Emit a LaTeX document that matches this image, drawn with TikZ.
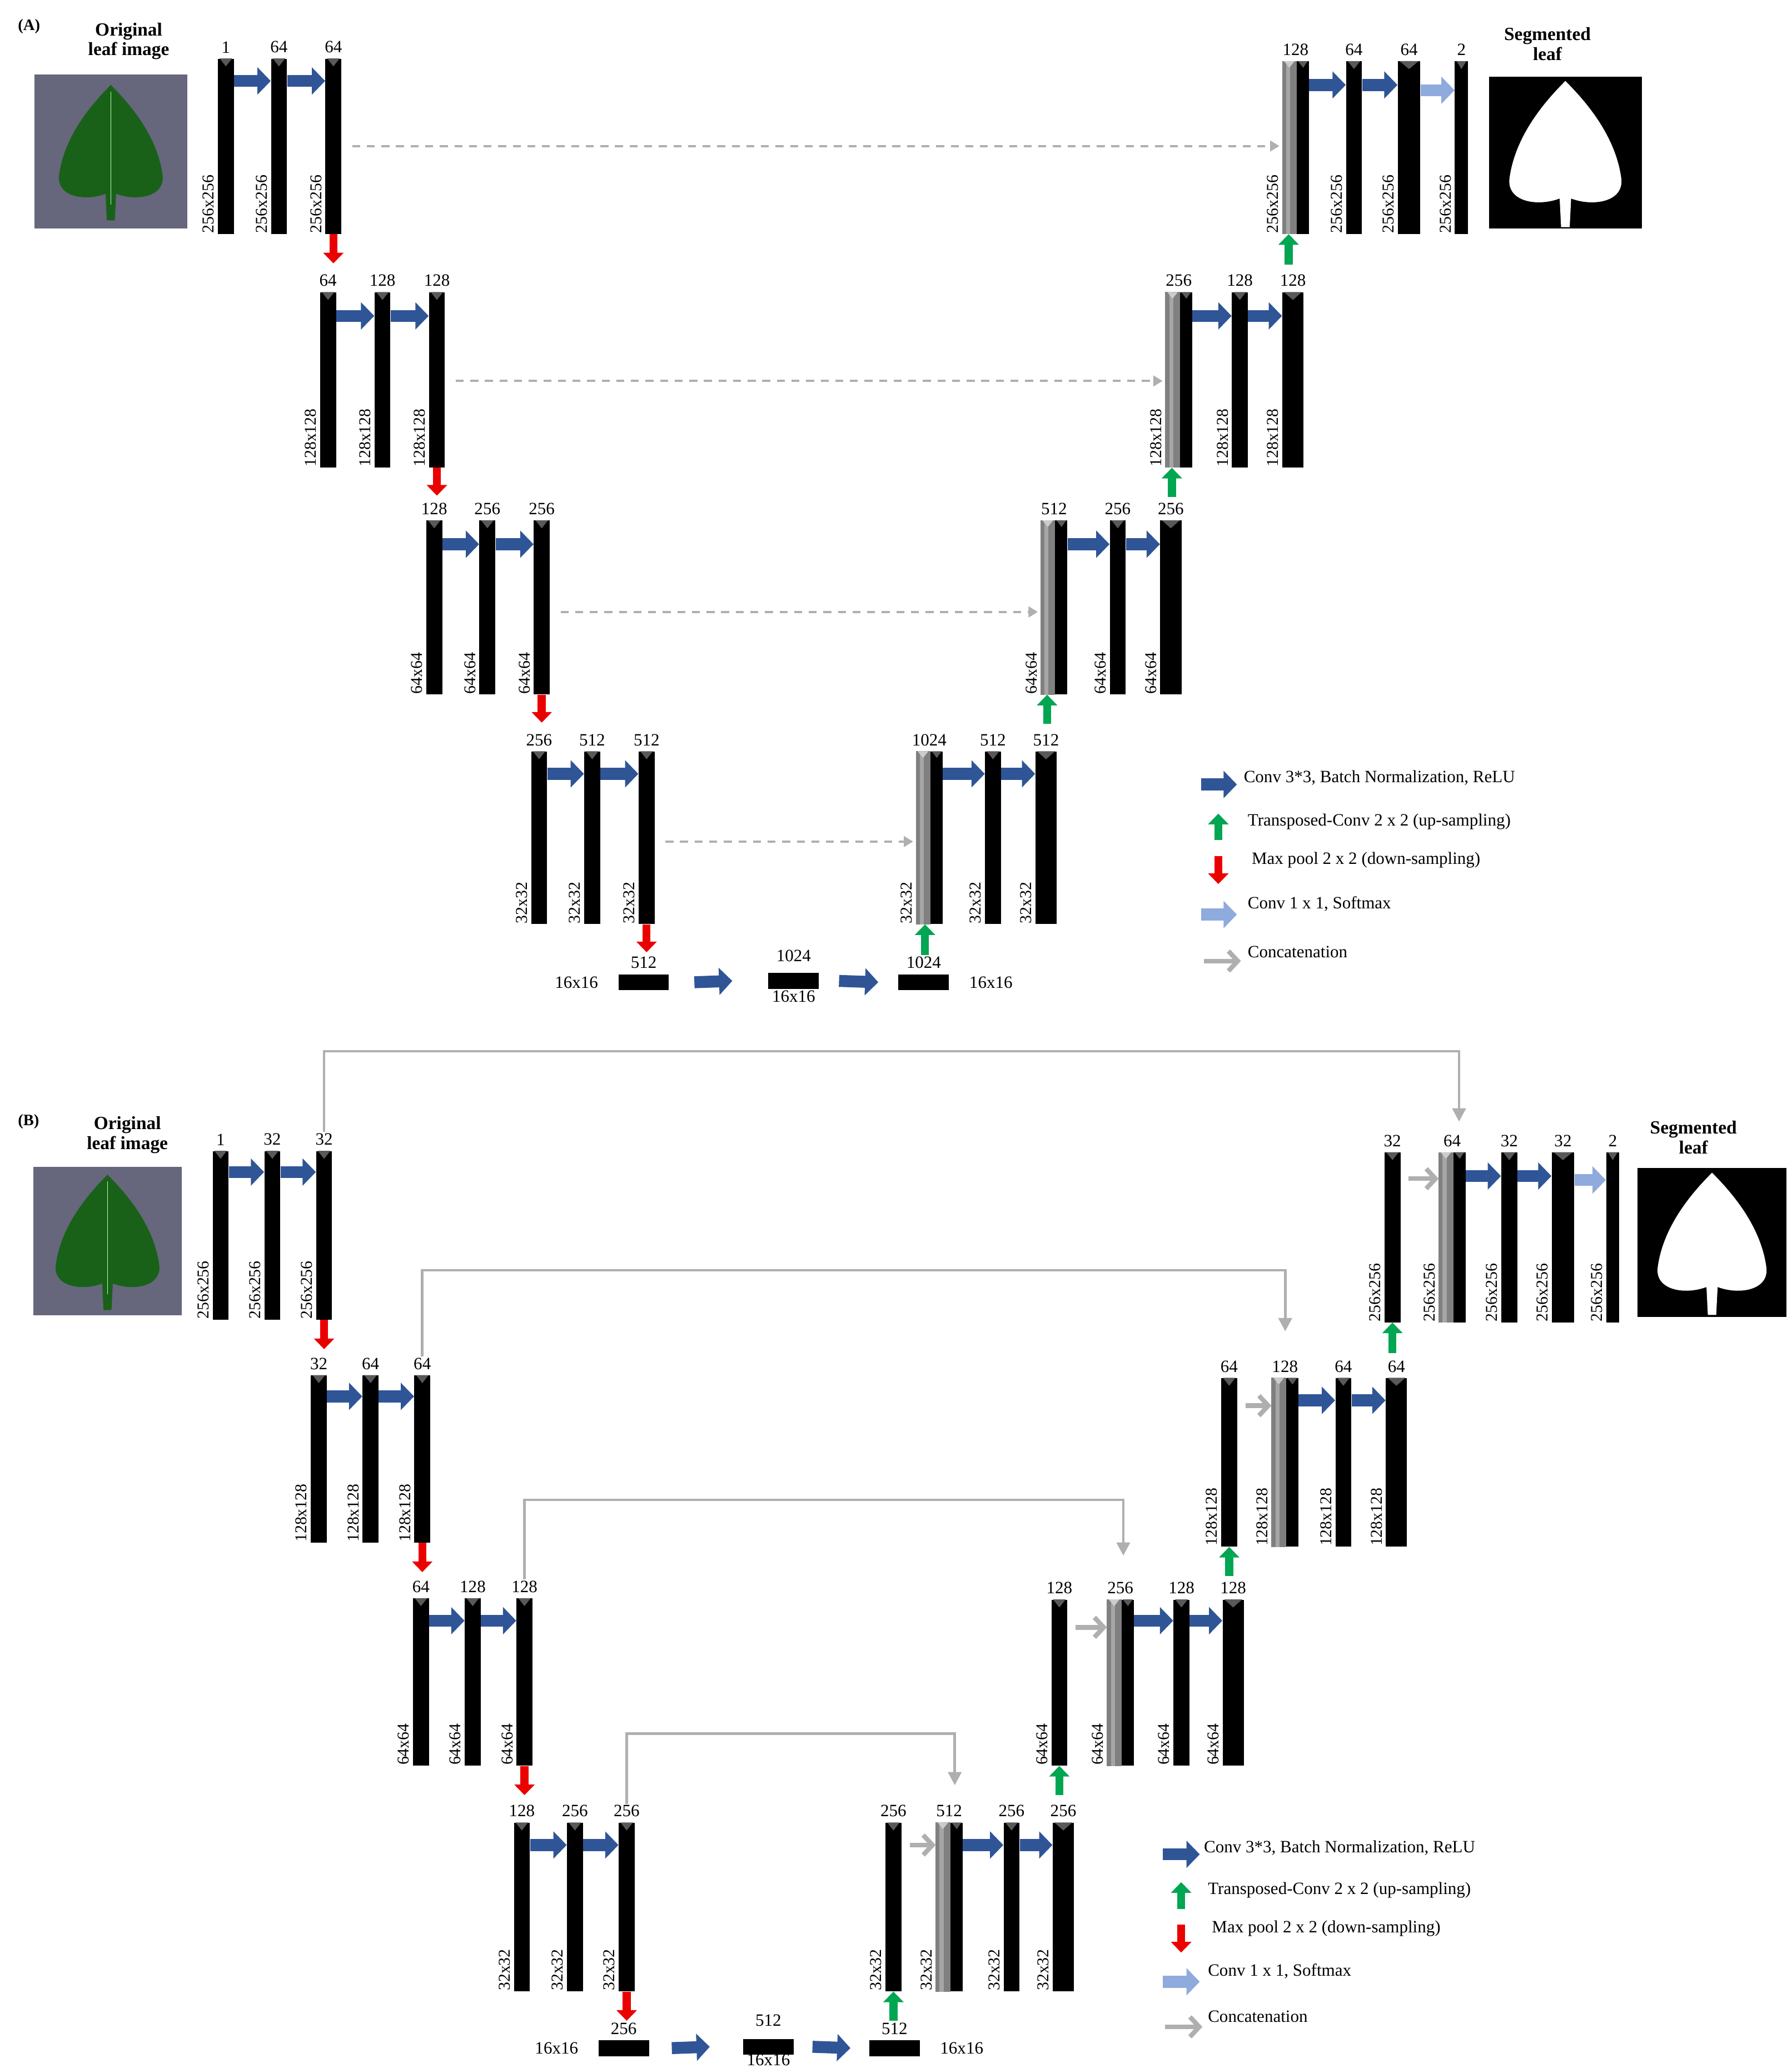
\documentclass[tikz,border=0pt]{standalone}
\usepackage{fontspec}
\setmainfont{Liberation Serif}
\usetikzlibrary{arrows.meta,calc}
\definecolor{convblue}{RGB}{47,85,151}
\definecolor{convlight}{RGB}{143,170,220}
\definecolor{upgreen}{RGB}{0,166,81}
\definecolor{downred}{RGB}{235,0,0}
\definecolor{skipgray}{RGB}{175,175,175}
\tikzset{
 bar/.style={fill=black, inner sep=0pt, anchor=north west},
 hbar/.style={fill=black, inner sep=0pt, minimum width=38pt, minimum height=12pt},
 bartri/.style={fill=black!65},
 num/.style={font=\fontsize{13}{13}\selectfont, anchor=south, inner sep=1pt},
 sz/.style={font=\fontsize{12.5}{12.5}\selectfont, rotate=90, anchor=south west, inner sep=0.5pt},
 ttl/.style={font=\bfseries\fontsize{14}{15}\selectfont, align=center, inner sep=0pt},
 leg/.style={font=\fontsize{13}{13}\selectfont, anchor=west, inner sep=0pt},
 conv/.style={draw=convblue, line width=9pt, -{Triangle[width=20pt,length=10pt]}},
 soft/.style={draw=convlight, line width=9pt, -{Triangle[width=20pt,length=10pt]}},
 up/.style={draw=upgreen, line width=6pt, -{Triangle[width=15pt,length=8pt]}},
 down/.style={draw=downred, line width=6pt, -{Triangle[width=15pt,length=8pt]}},
 skipA/.style={draw=skipgray, line width=1.6pt, dash pattern=on 6pt off 5pt, -{Triangle[width=8pt,length=7pt]}},
 skipB/.style={draw=skipgray, line width=2pt, -{Triangle[width=10pt,length=10pt]}},
 cat/.style={draw=skipgray, line width=3.5pt, -{Straight Barb[width=15pt,length=7pt]}},
}
% name, x, ytop, ybot, label, width
\newcommand\bk[6]{%
 \node[bar, minimum width=#6pt, minimum height={#4pt-#3pt}] (#1) at (#2,#3) {};
 \fill[bartri] ([xshift=1.5pt]#1.north west) -- ([xshift=-1.5pt]#1.north east) -- ([yshift=-6pt]#1.north) -- cycle;
 \node[num] (#1-n) at ([yshift=3pt]#1.north) {#5};}
% gray concat bar: name, x, ytop, ybot, label
\newcommand\gb[5]{%
 \node[bar, minimum width=20pt, minimum height={#4pt-#3pt}] (#1) at (#2,#3) {};
 \fill[black!50] (#1.north west) rectangle ([xshift=11pt]#1.south west);
 \fill[black!35] ([xshift=3pt]#1.north west) rectangle ([xshift=6pt]#1.south west);
 \fill[white!80!black] ([xshift=1.5pt]#1.north west) -- ([xshift=9.5pt]#1.north west) -- ([xshift=5.5pt,yshift=-5pt]#1.north west) -- cycle;
 \fill[bartri] ([xshift=12pt]#1.north west) -- ([xshift=-1pt]#1.north east) -- ([xshift=-4.5pt,yshift=-5pt]#1.north east) -- cycle;
 \node[num] (#1-n) at ([yshift=3pt]#1.north) {#5};}
\newcommand\sz[2]{\node[sz] (#1-s) at ([xshift=-2pt]#1.south west) {#2};}
\newcommand\leafshape{(0,-50) .. controls (14,-36) and (35,-12) .. (39,18) .. controls (41,34) and (20,38) .. (4,32) -- (3,52) -- (-3,52) -- (-4,32) .. controls (-20,38) and (-41,34) .. (-39,18) .. controls (-35,-12) and (-14,-36) .. (0,-50) -- cycle}
\begin{document}
\begin{tikzpicture}[x=1pt,y=-1pt]
\useasboundingbox (0,0) rectangle (1350,1558);
\fill[white] (0,0) rectangle (1350,1558);

%================ PANEL A =================
\node[font=\bfseries\fontsize{12}{12}\selectfont, anchor=west] (labA) at (10,20) {(A)};
\node[ttl] (tA1) at (97,31) {Original\\leaf image};
\node[ttl] (tA2) at (1166,33) {Segmented\\leaf};
\node[fill=black!55!blue!20!gray, minimum width=115pt, minimum height=116pt, inner sep=0pt] (leafA) at (83.5,114) {};
\begin{scope}[shift={(leafA.center)}]
 \fill[green!35!black!80!gray] \leafshape;
 \draw[green!30!white, line width=0.6pt] (0,-45) -- (0,40);
\end{scope}
\node[fill=black, minimum width=115pt, minimum height=114pt, inner sep=0pt] (segA) at (1179.5,115) {};
\begin{scope}[shift={(segA.center)}, scale=1.08]
 \fill[white] \leafshape;
\end{scope}

% level 1
\bk{a11}{164}{44}{176}{1}{12}
\bk{a12}{204}{44}{176}{64}{12}
\bk{a13}{245}{44}{176}{64}{12}
\sz{a11}{256x256}\sz{a12}{256x256}\sz{a13}{256x256}
\gb{ga1}{966}{46}{176}{128}
\bk{a15}{1014}{46}{176}{64}{12}
\bk{a16}{1053}{46}{176}{64}{17}
\bk{a17}{1096}{46}{176}{2}{10}
\sz{ga1}{256x256}\sz{a15}{256x256}\sz{a16}{256x256}\sz{a17}{256x256}
\draw[conv] (a11.east |- 0,61) -- (a12.west |- 0,61);
\draw[conv] (a12.east |- 0,61) -- (a13.west |- 0,61);
\draw[conv] (ga1.east |- 0,64) -- (a15.west |- 0,64);
\draw[conv] (a15.east |- 0,64) -- (a16.west |- 0,64);
\draw[soft] (a16.east |- 0,68) -- (a17.west |- 0,68);
\draw[skipA] (a13.east |- 0,110) ++(8,0) -- ([xshift=-2pt]ga1.west |- 0,110);

% level 2
\bk{a21}{241}{220}{352}{64}{12}
\bk{a22}{282}{220}{352}{128}{12}
\bk{a23}{323}{220}{352}{128}{12}
\sz{a21}{128x128}\sz{a22}{128x128}\sz{a23}{128x128}
\gb{ga2}{878}{220}{352}{256}
\bk{a25}{928}{220}{352}{128}{12}
\bk{a26}{966}{220}{352}{128}{16}
\sz{ga2}{128x128}\sz{a25}{128x128}\sz{a26}{128x128}
\draw[conv] (a21.east |- 0,238) -- (a22.west |- 0,238);
\draw[conv] (a22.east |- 0,238) -- (a23.west |- 0,238);
\draw[conv] (ga2.east |- 0,238) -- (a25.west |- 0,238);
\draw[conv] (a25.east |- 0,238) -- (a26.west |- 0,238);
\draw[skipA] (a23.east |- 0,287) ++(8,0) -- ([xshift=-2pt]ga2.west |- 0,287);

% level 3
\bk{a31}{321}{392}{523}{128}{12}
\bk{a32}{361}{392}{523}{256}{12}
\bk{a33}{402}{392}{523}{256}{12}
\sz{a31}{64x64}\sz{a32}{64x64}\sz{a33}{64x64}
\gb{ga3}{784}{392}{523}{512}
\bk{a35}{836}{392}{523}{256}{12}
\bk{a36}{874}{392}{523}{256}{16}
\sz{ga3}{64x64}\sz{a35}{64x64}\sz{a36}{64x64}
\draw[conv] (a31.east |- 0,410) -- (a32.west |- 0,410);
\draw[conv] (a32.east |- 0,410) -- (a33.west |- 0,410);
\draw[conv] (ga3.east |- 0,410) -- (a35.west |- 0,410);
\draw[conv] (a35.east |- 0,410) -- (a36.west |- 0,410);
\draw[skipA] (a33.east |- 0,461) ++(8,0) -- ([xshift=-2pt]ga3.west |- 0,461);

% level 4
\bk{a41}{400}{566}{696}{256}{12}
\bk{a42}{440}{566}{696}{512}{12}
\bk{a43}{481}{566}{696}{512}{12}
\sz{a41}{32x32}\sz{a42}{32x32}\sz{a43}{32x32}
\gb{ga4}{690}{566}{696}{1024}
\bk{a45}{742}{566}{696}{512}{12}
\bk{a46}{780}{566}{696}{512}{16}
\sz{ga4}{32x32}\sz{a45}{32x32}\sz{a46}{32x32}
\draw[conv] (a41.east |- 0,583) -- (a42.west |- 0,583);
\draw[conv] (a42.east |- 0,583) -- (a43.west |- 0,583);
\draw[conv] (ga4.east |- 0,583) -- (a45.west |- 0,583);
\draw[conv] (a45.east |- 0,583) -- (a46.west |- 0,583);
\draw[skipA] (a43.east |- 0,634) ++(8,0) -- ([xshift=-2pt]ga4.west |- 0,634);

% bottleneck
\node[hbar] (ab1) at (485,740) {};
\node[hbar] (ab2) at (598,739) {};
\node[hbar] (ab3) at (696,740) {};
\node[num] (ab1-n) at ([yshift=3pt]ab1.north) {512};
\node[num] (ab2-n) at ([yshift=7pt]ab2.north) {1024};
\node[num] (ab3-n) at ([yshift=3pt]ab3.north) {1024};
\node[num, anchor=east] (ab1-s) at ([xshift=-14pt]ab1.west) {16x16};
\node[num, anchor=north] (ab2-s) at (ab2.south) {16x16};
\node[num, anchor=west] (ab3-s) at ([xshift=14pt]ab3.east) {16x16};
\draw[conv] ([xshift=19pt]ab1.east) -- ([xshift=-27pt]ab2.west);
\draw[conv] ([xshift=15pt]ab2.east) -- ([xshift=-15pt]ab3.west);

% down / up arrows A
\draw[down] (a13.south) -- ++(0,22);
\draw[down] (a23.south) -- ++(0,21);
\draw[down] (a33.south) -- ++(0,21);
\draw[down] (a43.south) -- ++(0,21);
\draw[up] ([xshift=5pt,yshift=-23pt]ga1.south west) -- ([xshift=5pt]ga1.south west);
\draw[up] ([xshift=5pt,yshift=-22pt]ga2.south west) -- ([xshift=5pt]ga2.south west);
\draw[up] ([xshift=5pt,yshift=-22pt]ga3.south west) -- ([xshift=5pt]ga3.south west);
\draw[up] ([xshift=7pt,yshift=-23pt]ga4.south west) -- ([xshift=7pt]ga4.south west);

% legend A
\draw[conv] (905,591) -- (932,591);
\node[leg] (lA1) at (937,586) {Conv 3*3, Batch Normalization, ReLU};
\draw[up] (918,633) -- (918,613);
\node[leg] (lA2) at (940,619) {Transposed-Conv 2 x 2 (up-sampling)};
\draw[down] (918,645) -- (918,666);
\node[leg] (lA3) at (943,648) {Max pool 2 x 2 (down-sampling)};
\draw[soft] (905,689) -- (932,689);
\node[leg] (lA4) at (940,681) {Conv 1 x 1, Softmax};
\draw[cat] (907,724) -- (935,724);
\node[leg] (lA5) at (940,717) {Concatenation};

%================ PANEL B =================
\node[font=\bfseries\fontsize{12}{12}\selectfont, anchor=west] (labB) at (10,845) {(B)};
\node[ttl] (tB1) at (96,855) {Original\\leaf image};
\node[ttl] (tB2) at (1276,857) {Segmented\\leaf};
\node[fill=black!55!blue!20!gray, minimum width=112pt, minimum height=112pt, inner sep=0pt] (leafB) at (81,935) {};
\begin{scope}[shift={(leafB.center)}]
 \fill[green!35!black!80!gray] \leafshape;
 \draw[green!30!white, line width=0.6pt] (0,-45) -- (0,40);
\end{scope}
\node[fill=black, minimum width=112pt, minimum height=112pt, inner sep=0pt] (segB) at (1290,936) {};
\begin{scope}[shift={(segB.center)}, scale=1.05]
 \fill[white] \leafshape;
\end{scope}

% level 1
\bk{b11}{160}{867}{994}{1}{12}
\bk{b12}{199}{867}{994}{32}{12}
\bk{b13}{238}{867}{994}{32}{12}
\sz{b11}{256x256}\sz{b12}{256x256}\sz{b13}{256x256}
\bk{b14}{1043}{868}{996}{32}{12}
\gb{gb1}{1084}{868}{996}{64}
\bk{b15}{1131}{868}{996}{32}{12}
\bk{b16}{1169}{868}{996}{32}{17}
\bk{b17}{1210}{868}{996}{2}{10}
\sz{b14}{256x256}\sz{gb1}{256x256}\sz{b15}{256x256}\sz{b16}{256x256}\sz{b17}{256x256}
\draw[conv] (b11.east |- 0,883) -- (b12.west |- 0,883);
\draw[conv] (b12.east |- 0,883) -- (b13.west |- 0,883);
\draw[cat] ([xshift=6pt]b14.east |- 0,888) -- (gb1.west |- 0,888);
\draw[conv] (gb1.east |- 0,886) -- (b15.west |- 0,886);
\draw[conv] (b15.east |- 0,886) -- (b16.west |- 0,886);
\draw[soft] (b16.east |- 0,889) -- (b17.west |- 0,889);
\draw[skipB] (b13-n.north) -- (b13-n.north |- 0,792) -| ([xshift=-5pt,yshift=23pt]gb1.north east);

% level 2
\bk{b21}{234}{1036}{1162}{32}{12}
\bk{b22}{273}{1036}{1162}{64}{12}
\bk{b23}{312}{1036}{1162}{64}{12}
\sz{b21}{128x128}\sz{b22}{128x128}\sz{b23}{128x128}
\bk{b24}{920}{1038}{1165}{64}{12}
\gb{gb2}{958}{1038}{1165}{128}
\bk{b25}{1006}{1038}{1165}{64}{12}
\bk{b26}{1044}{1038}{1165}{64}{16}
\sz{b24}{128x128}\sz{gb2}{128x128}\sz{b25}{128x128}\sz{b26}{128x128}
\draw[conv] (b21.east |- 0,1052) -- (b22.west |- 0,1052);
\draw[conv] (b22.east |- 0,1052) -- (b23.west |- 0,1052);
\draw[cat] ([xshift=6pt]b24.east |- 0,1059) -- (gb2.west |- 0,1059);
\draw[conv] (gb2.east |- 0,1055) -- (b25.west |- 0,1055);
\draw[conv] (b25.east |- 0,1055) -- (b26.west |- 0,1055);
\draw[skipB] (b23-n.north) -- (b23-n.north |- 0,957) -| ([xshift=-10pt,yshift=35pt]gb2.north east);

% level 3
\bk{b31}{311}{1204}{1330}{64}{12}
\bk{b32}{350}{1204}{1330}{128}{12}
\bk{b33}{389}{1204}{1330}{128}{12}
\sz{b31}{64x64}\sz{b32}{64x64}\sz{b33}{64x64}
\bk{b34}{792}{1205}{1330}{128}{12}
\gb{gb3}{834}{1205}{1330}{256}
\bk{b35}{884}{1205}{1330}{128}{12}
\bk{b36}{921}{1205}{1330}{128}{16}
\sz{b34}{64x64}\sz{gb3}{64x64}\sz{b35}{64x64}\sz{b36}{64x64}
\draw[conv] (b31.east |- 0,1221) -- (b32.west |- 0,1221);
\draw[conv] (b32.east |- 0,1221) -- (b33.west |- 0,1221);
\draw[cat] ([xshift=6pt]b34.east |- 0,1226) -- (gb3.west |- 0,1226);
\draw[conv] (gb3.east |- 0,1221) -- (b35.west |- 0,1221);
\draw[conv] (b35.east |- 0,1221) -- (b36.west |- 0,1221);
\draw[skipB] (b33-n.north) -- (b33-n.north |- 0,1130) -| ([xshift=-8pt,yshift=33pt]gb3.north east);

% level 4
\bk{b41}{387}{1373}{1500}{128}{12}
\bk{b42}{427}{1373}{1500}{256}{12}
\bk{b43}{466}{1373}{1500}{256}{12}
\sz{b41}{32x32}\sz{b42}{32x32}\sz{b43}{32x32}
\bk{b44}{667}{1373}{1500}{256}{12}
\gb{gb4}{705}{1373}{1500}{512}
\bk{b45}{756}{1373}{1500}{256}{12}
\bk{b46}{793}{1373}{1500}{256}{16}
\sz{b44}{32x32}\sz{gb4}{32x32}\sz{b45}{32x32}\sz{b46}{32x32}
\draw[conv] (b41.east |- 0,1390) -- (b42.west |- 0,1390);
\draw[conv] (b42.east |- 0,1390) -- (b43.west |- 0,1390);
\draw[cat] ([xshift=6pt]b44.east |- 0,1390) -- (gb4.west |- 0,1390);
\draw[conv] (gb4.east |- 0,1390) -- (b45.west |- 0,1390);
\draw[conv] (b45.east |- 0,1390) -- (b46.west |- 0,1390);
\draw[skipB] (b43-n.north) -- (b43-n.north |- 0,1306) -| ([xshift=-6pt,yshift=28pt]gb4.north east);

% bottleneck B
\node[hbar] (bb1) at (470,1543) {};
\node[hbar] (bb2) at (579,1542) {};
\node[hbar] (bb3) at (674,1543) {};
\node[num] (bb1-n) at ([yshift=3pt]bb1.north) {256};
\node[num] (bb2-n) at ([yshift=8pt]bb2.north) {512};
\node[num] (bb3-n) at ([yshift=3pt]bb3.north) {512};
\node[num, anchor=east] (bb1-s) at ([xshift=-14pt]bb1.west) {16x16};
\node[num, anchor=north] (bb2-s) at ([yshift=2pt]bb2.south) {16x16};
\node[num, anchor=west] (bb3-s) at ([xshift=14pt]bb3.east) {16x16};
\draw[conv] ([xshift=17pt]bb1.east) -- ([xshift=-25pt]bb2.west);
\draw[conv] ([xshift=14pt]bb2.east) -- ([xshift=-14pt]bb3.west);

% down / up arrows B
\draw[down] (b13.south) -- ++(0,22);
\draw[down] (b23.south) -- ++(0,22);
\draw[down] (b33.south) -- ++(0,22);
\draw[down] (b43.south) -- ++(0,22);
\draw[up] ([yshift=-23pt]b14.south) -- (b14.south);
\draw[up] ([yshift=-22pt]b24.south) -- (b24.south);
\draw[up] ([yshift=-22pt]b34.south) -- (b34.south);
\draw[up] ([yshift=-22pt]b44.south) -- (b44.south);

% legend B
\draw[conv] (876,1397) -- (904,1397);
\node[leg] (lB1) at (907,1392) {Conv 3*3, Batch Normalization, ReLU};
\draw[up] (890,1438) -- (890,1418);
\node[leg] (lB2) at (910,1424) {Transposed-Conv 2 x 2 (up-sampling)};
\draw[down] (890,1450) -- (890,1471);
\node[leg] (lB3) at (913,1453) {Max pool 2 x 2 (down-sampling)};
\draw[soft] (876,1493) -- (904,1493);
\node[leg] (lB4) at (910,1485) {Conv 1 x 1, Softmax};
\draw[cat] (878,1527) -- (906,1527);
\node[leg] (lB5) at (910,1519) {Concatenation};
\end{tikzpicture}
\end{document}
